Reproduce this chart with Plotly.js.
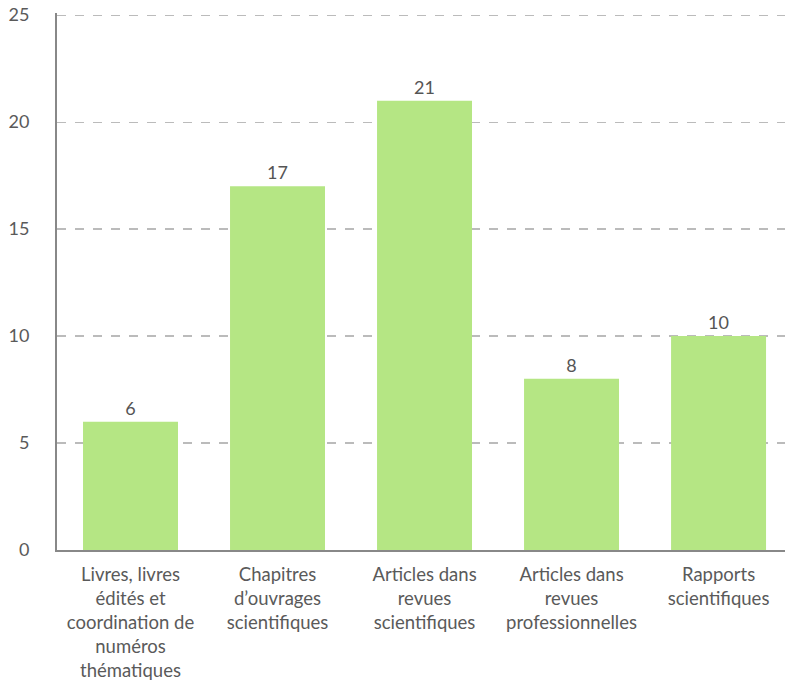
<!DOCTYPE html>
<html><head><meta charset="utf-8">
<script src="https://cdn.plot.ly/plotly-3.0.1.min.js"></script>
<style>html,body{margin:0;padding:0;background:#fff}</style>
</head><body>
<div id="chart" style="width:785px;height:685px"></div>
<script>
const categories = [
  "Livres, livres<br>édités et<br>coordination de<br>numéros<br>thématiques",
  "Chapitres<br>d’ouvrages<br>scientifiques",
  "Articles dans<br>revues<br>scientifiques",
  "Articles dans<br>revues<br>professionnelles",
  "Rapports<br>scientifiques"
];
const values = [6, 17, 21, 8, 10];
const yTicks = [0, 5, 10, 15, 20, 25];

Plotly.newPlot('chart', [{
  type: 'bar',
  x: categories,
  y: values,
  marker: {color: '#b5e684'},
  text: values.map(String),
  textposition: 'outside',
  textfont: {family: 'Lato', size: 18, color: '#555'},
  cliponaxis: false,
  hoverinfo: 'none'
}], {
  width: 785, height: 685,
  margin: {l: 57, r: 0, t: 13, b: 135},
  bargap: 0.354,
  paper_bgcolor: '#fff', plot_bgcolor: '#fff',
  font: {family: 'Lato', color: '#555'},
  showlegend: false,
  xaxis: {
    range: [-0.5, 4.452],
    showline: true, linecolor: '#888', linewidth: 2,
    tickfont: {family: 'Lato', size: 18.5, color: '#5a5a5a'},
    ticks: '', ticklabelstandoff: 7,
    showgrid: false, zeroline: false, fixedrange: true
  },
  yaxis: {
    range: [0, 25.1],
    tickvals: yTicks,
    ticktext: yTicks.map(String),
    showline: true, linecolor: '#888', linewidth: 2,
    showgrid: true, gridcolor: '#bbb', griddash: 'dash', gridwidth: 1.2,
    zeroline: false,
    tickfont: {family: 'Lato', size: 18, color: '#5a5a5a'},
    ticks: '', ticklabelstandoff: 22, fixedrange: true
  }
}, {displayModeBar: false, staticPlot: true});
</script>
</body></html>
